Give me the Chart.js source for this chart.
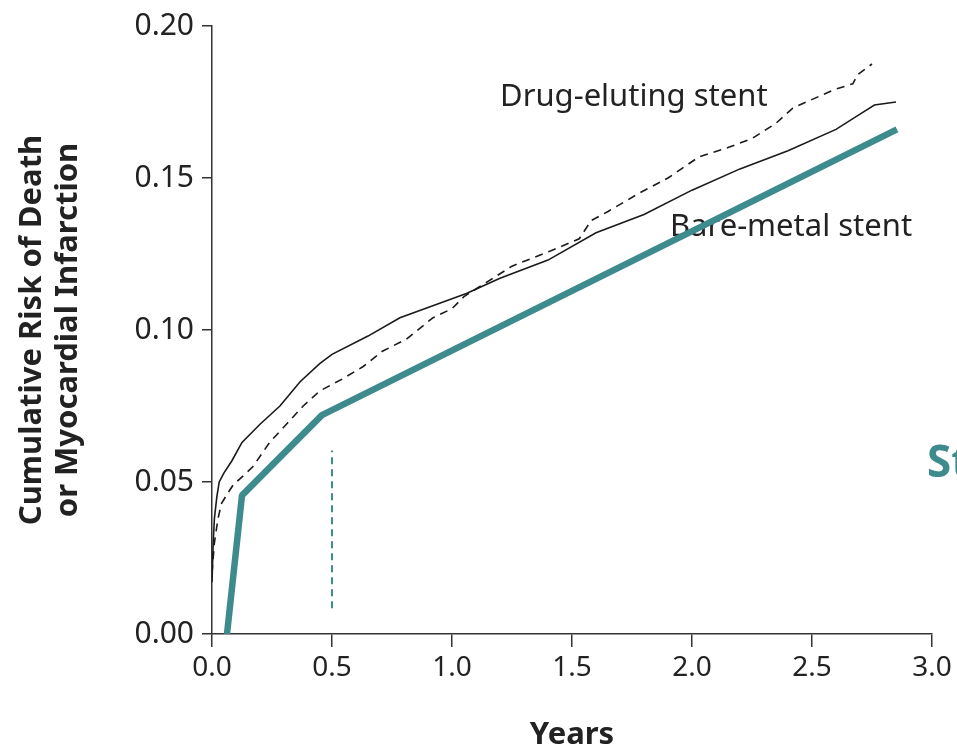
<!DOCTYPE html>
<html>
<head>
<meta charset="utf-8">
<script src="https://cdn.jsdelivr.net/npm/chart.js@4"></script>
<style>
  body { margin: 0; background: #fff; }
  canvas { display: block; }
</style>
</head>
<body>
<canvas id="chart" width="957" height="750"></canvas>
<script>
// time in years, cumulative risk
const bmsYears = [0.000, 0.005, 0.010, 0.020, 0.030, 0.050, 0.083, 0.125, 0.200, 0.283, 0.367, 0.450, 0.500, 0.650, 0.783, 0.920, 1.060, 1.200, 1.400, 1.600, 1.800, 2.000, 2.200, 2.400, 2.600, 2.700, 2.760, 2.850];
const bmsRisk  = [0.017, 0.030, 0.038, 0.045, 0.050, 0.053, 0.057, 0.063, 0.069, 0.075, 0.083, 0.089, 0.092, 0.098, 0.104, 0.108, 0.112, 0.117, 0.123, 0.132, 0.138, 0.146, 0.153, 0.159, 0.166, 0.171, 0.174, 0.175];

const desYears = [0.000, 0.010, 0.025, 0.040, 0.063, 0.088, 0.130, 0.170, 0.240, 0.310, 0.380, 0.450, 0.546, 0.630, 0.710, 0.810, 0.920, 1.000, 1.050, 1.150, 1.250, 1.410, 1.530, 1.580, 1.650, 1.780, 1.900, 2.030, 2.150, 2.250, 2.350, 2.420, 2.590, 2.670, 2.690, 2.750];
const desRisk  = [0.020, 0.030, 0.038, 0.043, 0.046, 0.049, 0.052, 0.055, 0.063, 0.069, 0.075, 0.080, 0.084, 0.088, 0.093, 0.097, 0.104, 0.107, 0.111, 0.116, 0.121, 0.126, 0.130, 0.136, 0.139, 0.145, 0.150, 0.157, 0.160, 0.163, 0.168, 0.173, 0.179, 0.181, 0.184, 0.1875];

// teal overlay drawn on top of the figure
const trendYears = [0.0625, 0.125, 0.458, 2.854];
const trendRisk  = [0.000, 0.0456, 0.072, 0.166];
const markerYears = [0.5, 0.5];
const markerRisk  = [0.0085, 0.0604];

const labelDES = "Drug-eluting stent";
const labelBMS = "Bare-metal stent";
const yTitle = ["Cumulative Risk of Death", "or Myocardial Infarction"];
const xTitle = "Years";

const teal = "#3e8b8e";
const ink = "#222";
const font = "'Noto Sans', 'Open Sans', sans-serif";

const toPoints = (xs, ys) => xs.map((x, i) => ({ x: x, y: ys[i] }));

const annotations = {
  id: "annotations",
  beforeDatasetsDraw(chart) {
    const { ctx, scales: { x, y } } = chart;
    ctx.save();
    ctx.fillStyle = ink;
    ctx.font = "31px " + font;
    ctx.textBaseline = "middle";
    ctx.textAlign = "left";
    ctx.fillText(labelDES, x.getPixelForValue(1.2), y.getPixelForValue(0.1765));
    ctx.fillText(labelBMS, x.getPixelForValue(1.908), y.getPixelForValue(0.1337));
    ctx.restore();
  },
  afterDraw(chart) {
    const { ctx, chartArea } = chart;
    ctx.save();
    ctx.fillStyle = ink;
    ctx.font = "bold 31px " + font;
    ctx.textAlign = "center";
    ctx.textBaseline = "middle";
    ctx.save();
    ctx.translate(32, 330);
    ctx.rotate(-Math.PI / 2);
    ctx.fillText(yTitle[0], 0, 0);
    ctx.fillText(yTitle[1], 0, 36);
    ctx.restore();
    ctx.fillText(xTitle, (chartArea.left + chartArea.right) / 2, 735);
    // partly cut-off teal letter on the right edge
    ctx.fillStyle = teal;
    ctx.font = "bold 44px " + font;
    ctx.textAlign = "left";
    ctx.fillText("St", 927, 464);
    ctx.restore();
  }
};

new Chart(document.getElementById("chart"), {
  type: "line",
  data: {
    datasets: [
      {
        label: labelBMS,
        data: toPoints(bmsYears, bmsRisk),
        borderColor: "#1a1a1a",
        borderWidth: 1.6,
        pointRadius: 0,
        tension: 0
      },
      {
        label: labelDES,
        data: toPoints(desYears, desRisk),
        borderColor: "#1a1a1a",
        borderWidth: 1.6,
        borderDash: [8, 6],
        pointRadius: 0,
        tension: 0
      },
      {
        label: "marker",
        data: toPoints(markerYears, markerRisk),
        borderColor: teal,
        borderWidth: 2,
        borderDash: [7, 5],
        pointRadius: 0
      },
      {
        label: "trend",
        data: toPoints(trendYears, trendRisk),
        borderColor: teal,
        borderWidth: 6.5,
        borderJoinStyle: "bevel",
        pointRadius: 0,
        tension: 0,
        clip: 10
      }
    ]
  },
  options: {
    responsive: false,
    animation: false,
    layout: { padding: { top: 25, right: 25, left: 0, bottom: 0 } },
    plugins: {
      legend: { display: false },
      tooltip: { enabled: false }
    },
    scales: {
      x: {
        type: "linear",
        min: 0,
        max: 3,
        afterFit: (s) => { s.height = 116; },
        ticks: {
          stepSize: 0.5,
          color: ink,
          padding: 4,
          font: { family: font, size: 28 },
          callback: (v) => v.toFixed(1)
        },
        grid: { drawOnChartArea: false, drawTicks: true, tickLength: 13, color: "#333", lineWidth: 1.5 },
        border: { display: true, color: "#333", width: 1.5 }
      },
      y: {
        type: "linear",
        min: 0,
        max: 0.2,
        afterFit: (s) => { s.width = 212; },
        ticks: {
          stepSize: 0.05,
          color: ink,
          padding: 8,
          font: { family: font, size: 30 },
          callback: (v) => v.toFixed(2)
        },
        grid: { drawOnChartArea: false, drawTicks: true, tickLength: 10, color: "#333", lineWidth: 1.5 },
        border: { display: true, color: "#333", width: 1.5 }
      }
    }
  },
  plugins: [annotations]
});
</script>
</body>
</html>
